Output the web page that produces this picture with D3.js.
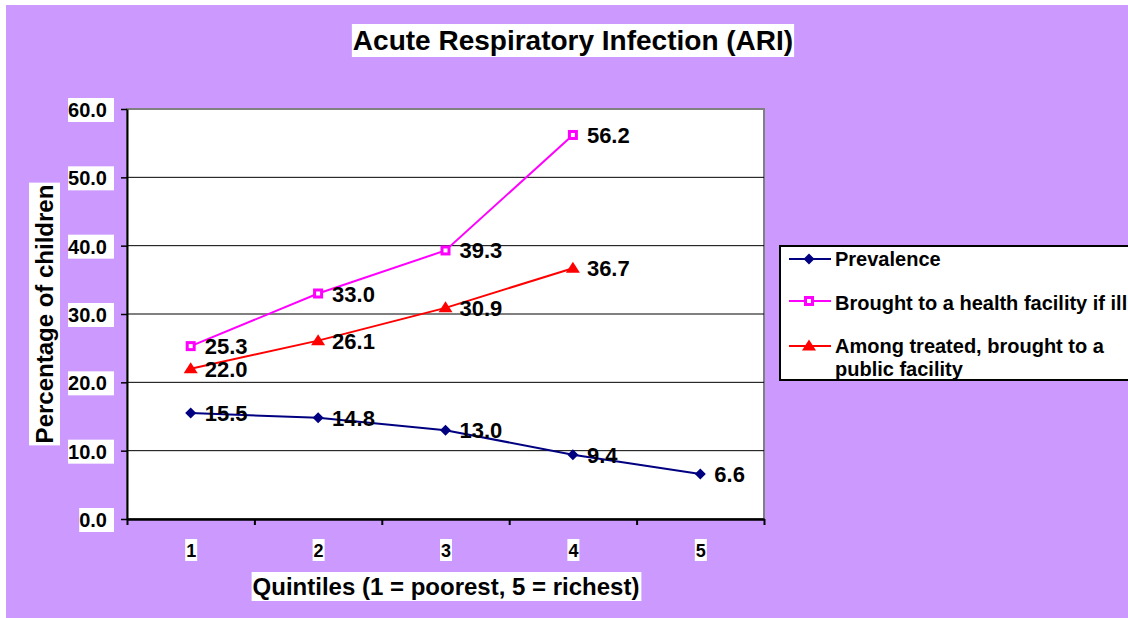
<!DOCTYPE html>
<html>
<head>
<meta charset="utf-8">
<script src="https://cdn.jsdelivr.net/npm/d3@7"></script>
<style>
  body { margin: 0; background: #fff; }
  text { font-family: Arial, 'Liberation Sans', sans-serif; font-weight: bold; fill: #000; }
</style>
</head>
<body>
<div class="chart"></div>
<script>
const w = 1128;
const h = 618;

// chart data
const quintiles = [1, 2, 3, 4, 5];
const prevalence = [15.5, 14.8, 13.0, 9.4, 6.6];
const broughtToFacility = [25.3, 33.0, 39.3, 56.2];
const publicFacility = [22.0, 26.1, 30.9, 36.7];
const yTicks = [0, 10, 20, 30, 40, 50, 60];
const seriesNames = ['Prevalence', 'Brought to a health facility if ill', 'Among treated, brought to a public facility'];

const plot = { left: 127, top: 109, right: 764, bottom: 519 };

const svg = d3.select('.chart').append('svg').attr('width', w).attr('height', h);

// purple chart area
svg.append('rect').attr('x', 6).attr('y', 5).attr('width', w - 6).attr('height', h - 5).attr('fill', '#cc99ff');

// plot area
svg.append('rect')
  .attr('x', plot.left).attr('y', plot.top)
  .attr('width', plot.right - plot.left).attr('height', plot.bottom - plot.top)
  .attr('fill', '#fff').attr('stroke', '#808080').attr('stroke-width', 2);

const xScale = d3.scaleLinear().domain([0.5, 5.5]).range([plot.left, plot.right]);
const yScale = d3.scaleLinear().domain([0, 60]).range([plot.bottom, plot.top]);

// text with a white box behind it
function boxText(g, x, y, str, size, anchor, pad) {
  const t = g.append('text').attr('x', x).attr('y', y)
    .attr('font-size', size).attr('text-anchor', anchor).text(str);
  const b = t.node().getBBox();
  g.insert('rect', () => t.node())
    .attr('x', b.x - pad[3]).attr('y', b.y - pad[0])
    .attr('width', b.width + pad[1] + pad[3]).attr('height', b.height + pad[0] + pad[2])
    .attr('fill', '#fff');
  return t;
}

// gridlines
svg.append('g')
  .selectAll('line')
  .data(yTicks.filter((d) => d > 0 && d < 60))
  .enter()
  .append('line')
  .attr('x1', plot.left).attr('x2', plot.right)
  .attr('y1', (d) => yScale(d)).attr('y2', (d) => yScale(d))
  .attr('stroke', '#000').attr('stroke-width', 1);

// Left axis
const yAxis = d3.axisLeft(yScale).tickValues(yTicks).tickSize(6).tickSizeOuter(0).tickFormat('');
const yg = svg.append('g').attr('transform', `translate(${plot.left},0)`).call(yAxis);
yg.select('.domain').attr('stroke', '#000').attr('stroke-width', 2);
yg.selectAll('.tick line').attr('stroke', '#000').attr('stroke-width', 1.5);

// Bottom axis
const xAxis = d3.axisBottom(xScale).tickValues([0.5, 1.5, 2.5, 3.5, 4.5, 5.5]).tickSize(6).tickSizeOuter(0).tickFormat('');
const xg = svg.append('g').attr('transform', `translate(0,${plot.bottom})`).call(xAxis);
xg.select('.domain').attr('stroke', '#000').attr('stroke-width', 2.5);
xg.selectAll('.tick line').attr('stroke', '#000').attr('stroke-width', 2);

// tick labels
const labels = svg.append('g');
yTicks.forEach((d) => boxText(labels, 107, yScale(d) + 8, d.toFixed(1), 20, 'end', [1, 7, 1, 0]));
quintiles.forEach((q) => boxText(labels, xScale(q) + 0.5, 557, String(q), 18, 'middle', [2, 1, 0, 1]));

// titles
boxText(svg, 573, 50, 'Acute Respiratory Infection (ARI)', 28, 'middle', [1, 1, 1, 1]);
boxText(svg, 446, 595, 'Quintiles (1 = poorest, 5 = richest)', 24, 'middle', [1, 2, 1, 1]);
const yt = svg.append('g').attr('transform', 'translate(53,314) rotate(-90)');
boxText(yt, 0, 0, 'Percentage of children', 24, 'middle', [2, 2, 2, 2]);

// series
const series = [
  { name: seriesNames[0], values: prevalence, color: '#000080', marker: 'diamond' },
  { name: seriesNames[1], values: broughtToFacility, color: '#ff00ff', marker: 'square' },
  { name: seriesNames[2], values: publicFacility, color: '#ff0000', marker: 'triangle' }
];

function drawMarker(g, type, color, x, y) {
  if (type === 'diamond') {
    g.append('path').attr('d', `M${x},${y - 5.5}L${x + 5.5},${y}L${x},${y + 5.5}L${x - 5.5},${y}Z`).attr('fill', color);
  } else if (type === 'square') {
    g.append('rect').attr('x', x - 3.5).attr('y', y - 3.5).attr('width', 7).attr('height', 7)
      .attr('fill', '#fff').attr('stroke', color).attr('stroke-width', 3);
  } else {
    g.append('path').attr('d', `M${x},${y - 6.5}L${x + 7},${y + 4.5}L${x - 7},${y + 4.5}Z`).attr('fill', color);
  }
}

const line = d3.line().x((d, i) => xScale(quintiles[i])).y((d) => yScale(d));

series.forEach((s) => {
  const g = svg.append('g');
  g.append('path').datum(s.values).attr('d', line)
    .attr('fill', 'none').attr('stroke', s.color).attr('stroke-width', 2);
  s.values.forEach((v, i) => drawMarker(g, s.marker, s.color, xScale(quintiles[i]), yScale(v)));
  g.selectAll('text.val')
    .data(s.values)
    .enter()
    .append('text')
    .attr('class', 'val')
    .attr('x', (d, i) => xScale(quintiles[i]) + 14)
    .attr('y', (d) => yScale(d) + 8)
    .attr('font-size', 22)
    .text((d) => d.toFixed(1));
});

// legend
const lg = svg.append('g');
lg.append('rect').attr('x', 780).attr('y', 246).attr('width', 360).attr('height', 134)
  .attr('fill', '#fff').attr('stroke', '#000').attr('stroke-width', 2);
const legendY = [259, 301, 346];
series.forEach((s, i) => {
  lg.append('line').attr('x1', 789).attr('x2', 831).attr('y1', legendY[i]).attr('y2', legendY[i])
    .attr('stroke', s.color).attr('stroke-width', 2);
  drawMarker(lg, s.marker, s.color, 809, legendY[i]);
});
lg.append('text').attr('x', 835).attr('y', 266).attr('font-size', 20).text(seriesNames[0]);
lg.append('text').attr('x', 835).attr('y', 310).attr('font-size', 20).text(seriesNames[1]);
lg.append('text').attr('x', 835).attr('y', 353).attr('font-size', 20).text('Among treated, brought to a');
lg.append('text').attr('x', 835).attr('y', 376).attr('font-size', 20).text('public facility');
</script>
</body>
</html>
